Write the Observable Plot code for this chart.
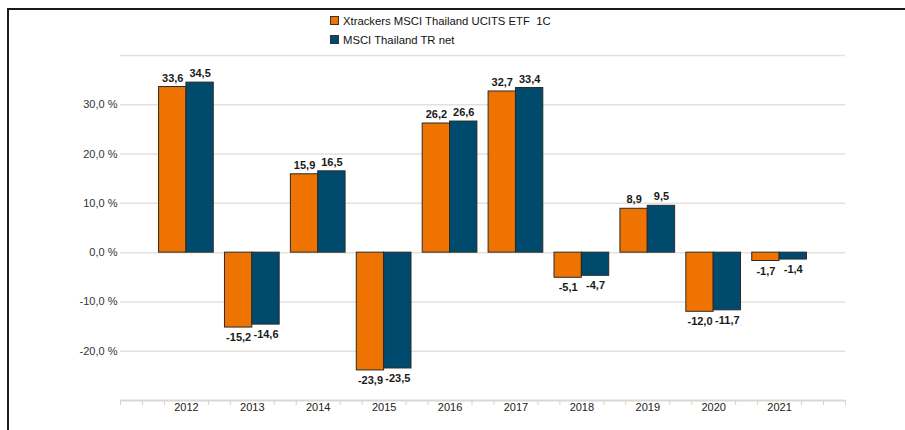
<!DOCTYPE html>
<html>
<head>
<meta charset="utf-8">
<script src="https://cdn.jsdelivr.net/npm/d3@7"></script>
<script src="https://cdn.jsdelivr.net/npm/@observablehq/plot@0.6"></script>
<style>
  body { margin: 0; background: #fff; font-family: "Liberation Sans", Arial, sans-serif; }
  #wrap { position: relative; width: 905px; height: 430px; overflow: hidden; }
  #frame { position: absolute; left: 7px; top: 8px; right: -5px; bottom: -5px;
           border-top: 2px solid #1a1a1a; border-left: 2px solid #1a1a1a; pointer-events: none; }
  #legend { position: absolute; left: 330px; top: 11px; font-size: 11.3px; color: #111; }
  .item { display: flex; align-items: center; height: 19px; }
  .sw { width: 9px; height: 9px; border: 1px solid #333; margin-right: 4px; box-sizing: border-box; }
  #chart { position: absolute; left: 0; top: 0; }
</style>
</head>
<body>
<div id="wrap">
  <div id="chart"></div>
  <div id="frame"></div>
  <div id="legend"></div>
</div>
<script>
const years = [2012, 2013, 2014, 2015, 2016, 2017, 2018, 2019, 2020, 2021];
const etf   = [33.6, -15.2, 15.9, -23.9, 26.2, 32.7, -5.1, 8.9, -12.0, -1.7];
const index = [34.5, -14.6, 16.5, -23.5, 26.6, 33.4, -4.7, 9.5, -11.7, -1.4];
const seriesNames = ["Xtrackers MSCI Thailand UCITS ETF\u00a0 1C", "MSCI Thailand TR net"];
const colors = ["#ef7300", "#004a6e"];
const yTicks = [-20, -10, 0, 10, 20, 30];
const gridValues = [-20, -10, 0, 10, 20, 30, 40];

const rows = [];
years.forEach((y, i) => {
  rows.push({year: y, series: seriesNames[0], value: etf[i], side: -1});
  rows.push({year: y, series: seriesNames[1], value: index[i], side: 1});
});

const bw = 0.415;
const minorTicks = d3.range(0, 34).map(k => 2011 + k / 3).filter((v, k) => k % 3 !== 0 || k === 0 || k === 33);
const fmt = v => v.toFixed(1).replace(".", ",");

const chart = Plot.plot({
  width: 905,
  height: 430,
  marginLeft: 120,
  marginRight: 60,
  marginTop: 55,
  marginBottom: 30,
  style: { fontFamily: "'Liberation Sans', Arial, sans-serif", background: "transparent" },
  x: { type: "linear", domain: [2011, 2022], axis: null },
  y: { domain: [-30, 40], axis: null },
  color: { domain: seriesNames, range: colors },
  marks: [
    Plot.ruleY(gridValues, { stroke: "#e4e1db", strokeWidth: 1.5 }),
    Plot.rectY(rows, {
      x1: d => d.side < 0 ? d.year - bw : d.year,
      x2: d => d.side < 0 ? d.year : d.year + bw,
      y: "value",
      fill: "series",
      stroke: "#2a2a2a",
      strokeWidth: 1
    }),
    Plot.text(rows.filter(d => d.value >= 0), {
      x: d => d.year + d.side * bw / 2,
      y: "value",
      text: d => fmt(d.value),
      dy: -9,
      fontSize: 11,
      fontWeight: "bold",
      fill: "#1a1a1a"
    }),
    Plot.text(rows.filter(d => d.value < 0), {
      x: d => d.year + d.side * bw / 2,
      y: "value",
      text: d => fmt(d.value),
      dy: 10,
      fontSize: 11,
      fontWeight: "bold",
      fill: "#1a1a1a"
    }),
    Plot.axisY({
      ticks: yTicks, tickSize: 0, tickPadding: 3,
      tickFormat: d => fmt(d) + " %", fontSize: 11, color: "#333", label: null
    }),
    Plot.ruleY([-30], { stroke: "#dcd8cf", strokeWidth: 2 }),
    Plot.axisX({
      ticks: minorTicks, tickSize: 5, tickFormat: () => "", stroke: "#d6d2c8", label: null
    }),
    Plot.axisX({
      ticks: years, tickSize: 0, tickPadding: 3, tickFormat: d => String(d),
      fontSize: 11, color: "#222", label: null
    })
  ]
});
document.getElementById("chart").appendChild(chart);

const legend = document.getElementById("legend");
seriesNames.forEach((name, i) => {
  const item = document.createElement("div");
  item.className = "item";
  const sw = document.createElement("span");
  sw.className = "sw";
  sw.style.background = colors[i];
  const label = document.createElement("span");
  label.textContent = name;
  item.appendChild(sw);
  item.appendChild(label);
  legend.appendChild(item);
});
</script>
</body>
</html>
